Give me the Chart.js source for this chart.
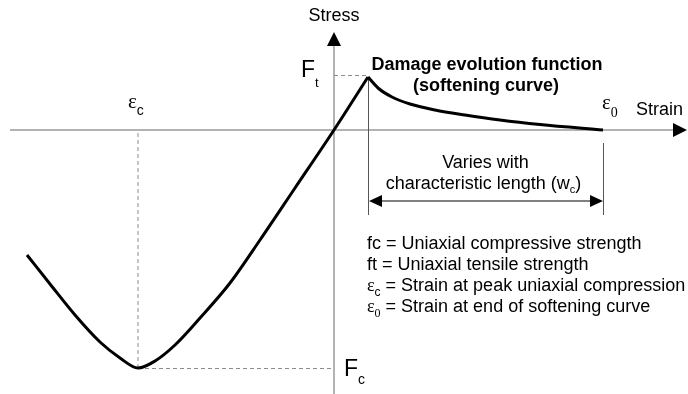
<!DOCTYPE html>
<html>
<head>
<meta charset="utf-8">
<script src="https://cdn.jsdelivr.net/npm/chart.js@4.4.1/dist/chart.umd.min.js"></script>
<style>
  html, body { margin: 0; padding: 0; background: #fff; }
  canvas { display: block; }
</style>
</head>
<body>
<canvas id="ssChart" width="688" height="394"></canvas>
<script>
// stress-strain curve, plotted in drawing units (origin at zero strain / zero stress)
const strainLoading = [-30.7, -28.4, -25.9, -23.4, -21.4, -19.6, -17.9, -15.9, -13.4, -10.4, -7.4, -3.9, 0, 3.4];
const stressLoading = [-12.5, -15.4, -18.5, -21.2, -22.8, -23.8, -23.1, -21.5, -18.8, -15.3, -11.0, -5.8, 0, 5.3];

// damage evolution (tension softening) after the peak
const strainSoftening = [3.4, 4.4, 5.8, 7.6, 10.1, 13.1, 16.6, 20.6, 26.9];
const stressSoftening = [5.3, 4.2, 3.3, 2.6, 2.0, 1.5, 1.0, 0.55, 0];

const legendLines = [
    ['f', 'c', ' = Uniaxial compressive strength'],
    ['f', 't', ' = Uniaxial tensile strength'],
    ['\u03b5', 'c', ' = Strain at peak uniaxial compression'],
    ['\u03b5', '0', ' = Strain at end of softening curve']
];

// key points taken from the curves
const fcIndex = stressLoading.indexOf(Math.min(...stressLoading));
const epsC = strainLoading[fcIndex];
const Fc = stressLoading[fcIndex];
const epsT = strainSoftening[0];
const Ft = stressSoftening[0];
const eps0 = strainSoftening[strainSoftening.length - 1];

const SANS = '"Liberation Sans", Arial, sans-serif';
const SERIF = '"Liberation Serif", "Times New Roman", serif';

function toPoints(xs, ys) {
    return xs.map((x, i) => ({ x: x, y: ys[i] }));
}

function arrowHead(ctx, x, y, dir, len, half) {
    ctx.beginPath();
    ctx.moveTo(x, y);
    if (dir === 'right') { ctx.lineTo(x - len, y - half); ctx.lineTo(x - len, y + half); }
    if (dir === 'left') { ctx.lineTo(x + len, y - half); ctx.lineTo(x + len, y + half); }
    if (dir === 'up') { ctx.lineTo(x - half, y + len); ctx.lineTo(x + half, y + len); }
    ctx.closePath();
    ctx.fill();
}

// parts: [text, font, baseline offset]
function drawParts(ctx, parts, x, y, align) {
    let w = 0;
    parts.forEach(p => { ctx.font = p[1]; w += ctx.measureText(p[0]).width; });
    let cx = align === 'center' ? x - w / 2 : x;
    ctx.textAlign = 'left';
    parts.forEach(p => {
        ctx.font = p[1];
        ctx.fillText(p[0], cx, y + (p[2] || 0));
        cx += ctx.measureText(p[0]).width;
    });
}

function line(ctx, x1, y1, x2, y2) {
    ctx.beginPath();
    ctx.moveTo(x1, y1);
    ctx.lineTo(x2, y2);
    ctx.stroke();
}

const diagramPlugin = {
    id: 'diagram',
    beforeDatasetsDraw(chart) {
        const ctx = chart.ctx;
        const xs = chart.scales.x, ys = chart.scales.y;
        const x0 = xs.getPixelForValue(0), y0 = ys.getPixelForValue(0);
        const W = chart.width, H = chart.height;
        ctx.save();

        // axes
        ctx.strokeStyle = '#9a9a9a';
        ctx.lineWidth = 1.5;
        line(ctx, 10, y0, W - 14, y0);
        line(ctx, x0, H, x0, 45);

        // guide lines to Fc, Ft and epsilon_c
        ctx.strokeStyle = '#8c8c8c';
        ctx.lineWidth = 1;
        ctx.setLineDash([4, 3]);
        const xc = xs.getPixelForValue(epsC), yc = ys.getPixelForValue(Fc);
        const xt = xs.getPixelForValue(epsT), yt = ys.getPixelForValue(Ft);
        line(ctx, xc, y0 + 3, xc, yc);
        line(ctx, xc, yc + 0.5, x0, yc + 0.5);
        line(ctx, x0, yt - 1.5, xt, yt - 1.5);
        ctx.setLineDash([]);

        // extent of the softening branch
        const xe = xs.getPixelForValue(eps0);
        ctx.strokeStyle = '#555';
        line(ctx, xt + 0.5, yt, xt + 0.5, 215);
        line(ctx, xe + 0.5, y0 + 13, xe + 0.5, 215);
        ctx.restore();
    },
    afterDatasetsDraw(chart) {
        const ctx = chart.ctx;
        const xs = chart.scales.x, ys = chart.scales.y;
        const x0 = xs.getPixelForValue(0), y0 = ys.getPixelForValue(0);
        const W = chart.width;
        const xt = xs.getPixelForValue(epsT), yt = ys.getPixelForValue(Ft);
        const xc = xs.getPixelForValue(epsC), yc = ys.getPixelForValue(Fc);
        const xe = xs.getPixelForValue(eps0);
        ctx.save();
        ctx.fillStyle = '#000';
        ctx.strokeStyle = '#000';

        // axis arrows
        arrowHead(ctx, W - 1, y0, 'right', 14, 7);
        arrowHead(ctx, x0, 32, 'up', 14, 7);

        // dimension arrow for the characteristic length
        ctx.lineWidth = 1;
        line(ctx, xt + 10, 201, xe - 10, 201);
        arrowHead(ctx, xt + 1, 201, 'left', 13, 6);
        arrowHead(ctx, xe, 201, 'right', 13, 6);

        ctx.textBaseline = 'alphabetic';
        drawParts(ctx, [['Stress', '18px ' + SANS]], x0, 21, 'center');
        drawParts(ctx, [['Strain', '18px ' + SANS]], 636, 115, 'left');

        drawParts(ctx, [['F', '23px ' + SANS], ['t', '13px ' + SANS, 10]], 301, yt, 'left');
        drawParts(ctx, [['F', '23px ' + SANS], ['c', '14px ' + SANS, 8]], 344, yc + 8, 'left');

        drawParts(ctx, [['\u03b5', '21px ' + SERIF], ['c', '14px ' + SANS, 7]], xc - 10, y0 - 22, 'left');
        drawParts(ctx, [['\u03b5', '21px ' + SERIF], ['0', '14px ' + SERIF, 8]], xe - 1, y0 - 21, 'left');

        drawParts(ctx, [['Damage evolution function', 'bold 18px ' + SANS]], 487, 70, 'center');
        drawParts(ctx, [['(softening curve)', 'bold 18px ' + SANS]], 486, 91, 'center');

        drawParts(ctx, [['Varies with', '18px ' + SANS]], (xt + xe) / 2, 168, 'center');
        drawParts(ctx, [['characteristic length (w', '18px ' + SANS], ['c', '11px ' + SANS, 4], [')', '18px ' + SANS]],
            (xt + xe) / 2 - 2, 189, 'center');

        legendLines.forEach((l, i) => {
            const lead = l[0] === 'f' ? '18px ' + SANS : '18px ' + SERIF;
            const sub = l[0] === 'f' ? '18px ' + SANS : '12px ' + (l[1] === '0' ? SERIF : SANS);
            const dy = l[0] === 'f' ? 0 : 5;
            drawParts(ctx, [[l[0], lead], [l[1], sub, dy], [l[2], '18px ' + SANS]], xt - 1, 249 + i * 21, 'left');
        });
        ctx.restore();
    }
};

const curveStyle = {
    showLine: true,
    borderColor: '#000',
    borderWidth: 3,
    pointRadius: 0,
    cubicInterpolationMode: 'monotone',
    fill: false
};

new Chart(document.getElementById('ssChart').getContext('2d'), {
    type: 'scatter',
    data: {
        datasets: [
            Object.assign({ label: 'Loading', data: toPoints(strainLoading, stressLoading) }, curveStyle),
            Object.assign({ label: 'Softening', data: toPoints(strainSoftening, stressSoftening) }, curveStyle)
        ]
    },
    options: {
        responsive: false,
        animation: false,
        devicePixelRatio: 1,
        layout: { padding: 0 },
        plugins: {
            legend: { display: false },
            tooltip: { enabled: false }
        },
        scales: {
            x: { type: 'linear', min: -33.4, max: 35.4, display: false },
            y: { type: 'linear', min: -26.4, max: 13.0, display: false }
        }
    },
    plugins: [diagramPlugin]
});
</script>
</body>
</html>
